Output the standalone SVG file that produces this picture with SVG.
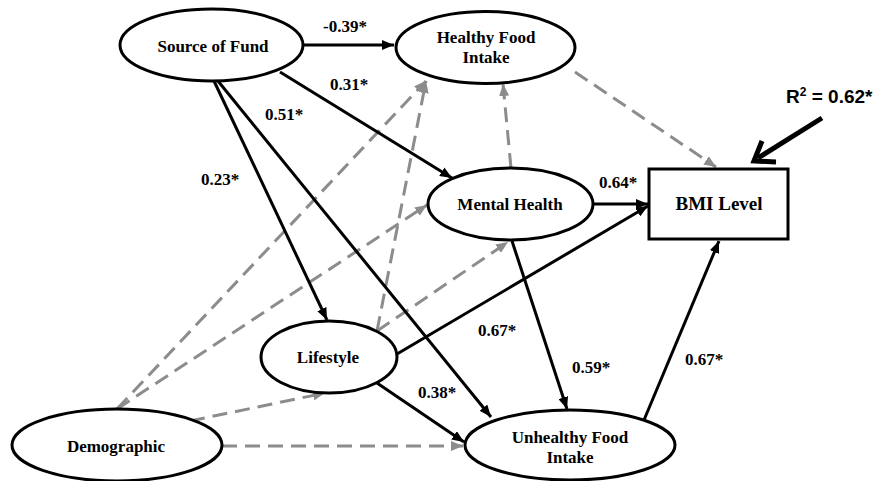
<svg xmlns="http://www.w3.org/2000/svg" width="878" height="481" viewBox="0 0 878 481">
<defs>
<marker id="ab" markerUnits="userSpaceOnUse" markerWidth="12" markerHeight="10" refX="12" refY="5" orient="auto">
<path d="M0,0 L12,5 L0,10 z" fill="#000"/>
</marker>
<marker id="ag" markerUnits="userSpaceOnUse" markerWidth="12" markerHeight="10" refX="12" refY="5" orient="auto">
<path d="M0,0 L12,5 L0,10 z" fill="#8c8c8c"/>
</marker>
<style>
.node ellipse, .node rect { fill: #fff; stroke: #000; stroke-width: 3; }
.lbl { font-weight: bold; font-size: 17px; fill: #000; text-anchor: middle; }
.coef { font-weight: bold; font-size: 17px; fill: #000; text-anchor: middle; }
.s { stroke: #000; stroke-width: 3; fill: none; marker-end: url(#ab); }
.d { stroke: #8c8c8c; stroke-width: 3; fill: none; stroke-dasharray: 15 8; marker-end: url(#ag); }
</style>
</defs>
<rect width="878" height="481" fill="#fff"/>
<g id="connectors">
<line class="d" x1="117" y1="409" x2="426" y2="81"/>
<line class="d" x1="117" y1="409" x2="427" y2="205"/>
<line class="d" x1="190" y1="421" x2="325" y2="393"/>
<line class="d" x1="222" y1="446" x2="463" y2="446"/>
<line class="d" x1="377" y1="331" x2="426" y2="81"/>
<line class="d" x1="377" y1="331" x2="508" y2="242"/>
<line class="d" x1="511" y1="168" x2="503" y2="84"/>
<line class="d" x1="575" y1="72" x2="716" y2="167"/>
<line class="s" x1="303" y1="45" x2="394" y2="45"/>
<line class="s" x1="280" y1="72" x2="452" y2="178"/>
<line class="s" x1="218" y1="81" x2="491" y2="417"/>
<line class="s" x1="214" y1="81" x2="327" y2="320"/>
<line class="s" x1="512" y1="241" x2="567" y2="409"/>
<line class="s" x1="593" y1="204" x2="648" y2="204"/>
<line class="s" x1="397" y1="354" x2="648" y2="206"/>
<line class="s" x1="377" y1="383" x2="464" y2="442"/>
<line class="s" x1="644" y1="420" x2="719" y2="241"/>
<line x1="822" y1="118" x2="758" y2="158" stroke="#000" stroke-width="5"/>
<polyline points="776,162 754,161 762,141" fill="none" stroke="#000" stroke-width="5" stroke-linejoin="miter"/>
</g>
<g id="coefficients" font-family="'Liberation Serif', 'Times New Roman', 'DejaVu Serif', serif">
<text class="coef" x="345" y="32">-0.39*</text>
<text class="coef" x="349" y="90">0.31*</text>
<text class="coef" x="284" y="120">0.51*</text>
<text class="coef" x="220" y="185">0.23*</text>
<text class="coef" x="618" y="188">0.64*</text>
<text class="coef" x="497" y="336">0.67*</text>
<text class="coef" x="591" y="373">0.59*</text>
<text class="coef" x="437" y="398">0.38*</text>
<text class="coef" x="704" y="365">0.67*</text>
<text x="786" y="103" font-family="'Liberation Sans', Arial, sans-serif" font-weight="bold" font-size="19" fill="#000">R<tspan font-size="12" dy="-7">2</tspan><tspan dy="7"> = 0.62*</tspan></text>
</g>
<g id="source-of-fund" class="node" font-family="'Liberation Serif', 'Times New Roman', 'DejaVu Serif', serif">
<ellipse cx="211.5" cy="45" rx="91.5" ry="36"/>
<text class="lbl" x="213" y="52">Source of Fund</text>
</g>
<g id="healthy-food-intake" class="node" font-family="'Liberation Serif', 'Times New Roman', 'DejaVu Serif', serif">
<ellipse cx="485.5" cy="47.5" rx="89.5" ry="36"/>
<text class="lbl" x="486" y="43">Healthy Food</text>
<text class="lbl" x="486" y="63">Intake</text>
</g>
<g id="mental-health" class="node" font-family="'Liberation Serif', 'Times New Roman', 'DejaVu Serif', serif">
<ellipse cx="510.5" cy="204" rx="82.5" ry="36"/>
<text class="lbl" x="510" y="210">Mental Health</text>
</g>
<g id="bmi-level" class="node" font-family="'Liberation Serif', 'Times New Roman', 'DejaVu Serif', serif">
<rect x="649" y="169" width="139" height="70"/>
<text class="lbl" x="719" y="210" style="font-size:19px">BMI Level</text>
</g>
<g id="lifestyle" class="node" font-family="'Liberation Serif', 'Times New Roman', 'DejaVu Serif', serif">
<ellipse cx="329" cy="357" rx="68" ry="36"/>
<text class="lbl" x="328" y="363">Lifestyle</text>
</g>
<g id="demographic" class="node" font-family="'Liberation Serif', 'Times New Roman', 'DejaVu Serif', serif">
<ellipse cx="117" cy="445" rx="105" ry="36"/>
<text class="lbl" x="116" y="452">Demographic</text>
</g>
<g id="unhealthy-food-intake" class="node" font-family="'Liberation Serif', 'Times New Roman', 'DejaVu Serif', serif">
<ellipse cx="570" cy="445" rx="105" ry="35"/>
<text class="lbl" x="570" y="443">Unhealthy Food</text>
<text class="lbl" x="570" y="463">Intake</text>
</g>
</svg>
